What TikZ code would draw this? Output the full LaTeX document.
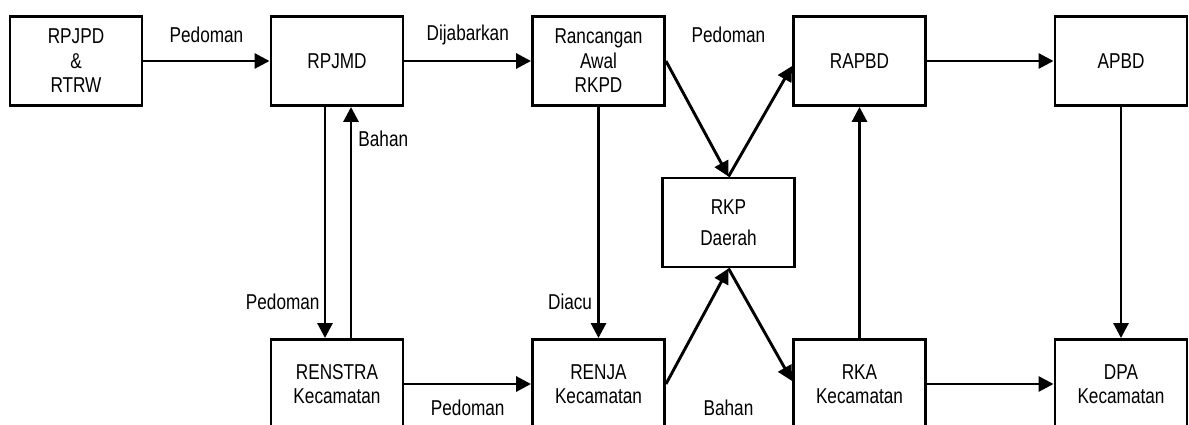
\documentclass[tikz,border=0pt]{standalone}
\usepackage{fontspec}
\setmainfont{Liberation Sans}[FakeStretch=0.8]
\usepackage{tikz}
\usetikzlibrary{arrows.meta}
\usetikzlibrary{positioning}
\usetikzlibrary{calc}

\tikzset{
	kotak/.style={draw, line width=2.9pt, minimum width=132pt, minimum height=89pt,
		inner sep=0pt, align=center, font=\fontsize{21.5}{24.5}\selectfont},
	panah/.style={line width=2.9pt, -{Triangle[length=15pt,width=15pt]}},
	ket/.style={font=\fontsize{21.5}{24.5}\selectfont, inner sep=2pt}
}

\begin{document}
\begin{tikzpicture}[x=1pt, y=-1pt]
	\useasboundingbox (0,0) rectangle (1189,425);

	\node[kotak] (rpjpd) at (76,61) {RPJPD\\\&\\RTRW};
	\node[kotak] (rpjmd) at (337,61) {RPJMD};
	\node[kotak] (rkpdawal) at (598.5,61) {Rancangan\\Awal\\RKPD};
	\node[kotak] (rapbd) at (859.5,61) {RAPBD};
	\node[kotak] (apbd) at (1121,61) {APBD};
	\node[kotak] (rkp) at (728.5,222.5) {RKP\\[7pt]Daerah};
	\node[kotak] (renstra) at (337,384) {RENSTRA\\Kecamatan};
	\node[kotak] (renja) at (598.5,384) {RENJA\\Kecamatan};
	\node[kotak] (rka) at (859.5,384) {RKA\\Kecamatan};
	\node[kotak] (dpa) at (1121,384) {DPA\\Kecamatan};

	\draw[panah] (rpjpd) -- (rpjmd) node[ket, midway, yshift=26pt] {Pedoman};
	\draw[panah] (rpjmd) -- (rkpdawal) node[ket, midway, yshift=26pt] {Dijabarkan};
	\draw[panah] (rapbd) -- (apbd);
	\draw[panah] (renstra) -- (renja) node[ket, midway, yshift=-24pt] {Pedoman};
	\draw[panah] (rka) -- (dpa);

	\draw[panah] ([xshift=-12pt]rpjmd.south) -- ([xshift=-12pt]renstra.north)
		node[ket, pos=0.845, left=2pt] {Pedoman};
	\draw[panah] ([xshift=14pt]renstra.north) -- ([xshift=14pt]rpjmd.south)
		node[ket, pos=0.86, right=4pt] {Bahan};
	\draw[panah] (rkpdawal) -- (renja) node[ket, pos=0.845, left=3pt] {Diacu};
	\draw[panah] (rka) -- (rapbd);
	\draw[panah] (apbd) -- (dpa);

	\draw[panah] (rkpdawal.east) -- (rkp.north);
	\draw[panah] (rkp.north) -- ([yshift=-5pt]rapbd.west);
	\draw[panah] (renja.east) -- (rkp.south);
	\draw[panah] (rkp.south) -- ([yshift=3pt]rka.west);

	\node[ket] (ketpedoman) at (728.5,35) {Pedoman};
	\node[ket] (ketbahan) at (728.5,408) {Bahan};
\end{tikzpicture}
\end{document}
